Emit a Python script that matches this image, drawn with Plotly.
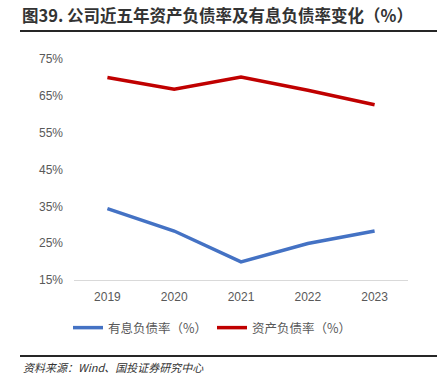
import plotly.graph_objects as go

years = ["2019", "2020", "2021", "2022", "2023"]
interest_debt_ratio = [34.4, 28.3, 19.9, 24.9, 28.3]
asset_liability_ratio = [70.0, 66.8, 70.1, 66.5, 62.6]
y_ticks = [15, 25, 35, 45, 55, 65, 75]

W, H = 443, 388
# plot area in pixels
X0, X1, Y0, Y1 = 74, 408, 59, 280

def px(x):
    return x / W

def py(y):
    return 1 - y / H

fig = go.Figure()
fig.add_trace(go.Scatter(x=years, y=interest_debt_ratio, mode="lines",
                         name="有息负债率（%）",
                         line=dict(color="#4472C4", width=3.5)))
fig.add_trace(go.Scatter(x=years, y=asset_liability_ratio, mode="lines",
                         name="资产负债率（%）",
                         line=dict(color="#C00000", width=3.5)))

cjk = "Noto Sans CJK SC"
fig.update_layout(
    width=W, height=H,
    margin=dict(l=0, r=0, t=0, b=0, autoexpand=False),
    paper_bgcolor="white", plot_bgcolor="white",
    font=dict(family=cjk, color="#595959", size=12),
    showlegend=True,
    legend=dict(orientation="h", x=px(68), y=py(313), xanchor="left", yanchor="top",
                font=dict(size=12.5, color="#595959"), itemwidth=30,
                tracegroupgap=0, traceorder="normal"),
    xaxis=dict(domain=[px(X0), px(X1)], showgrid=False, showline=True,
               linecolor="#D9D9D9", linewidth=1,
               range=[-0.5, 4.5], ticks="", ticklabelstandoff=6,
               tickfont=dict(size=12, color="#595959", family="Liberation Sans")),
    yaxis=dict(domain=[py(Y1), py(Y0)], range=[15, 75], tickvals=y_ticks,
               ticktext=[f"{v}%" for v in y_ticks],
               showgrid=False, zeroline=False, showline=False, ticklabelstandoff=10,
               tickfont=dict(size=12, color="#595959", family="Liberation Sans")),
)

fig.add_annotation(xref="paper", yref="paper", x=px(20), y=py(15),
                   xanchor="left", yanchor="middle", showarrow=False,
                   text="<b>图39. 公司近五年资产负债率及有息负债率变化（%）</b>",
                   font=dict(size=16.5, color="#333333", family=cjk))
# horizontal rules drawn as thin filled annotation boxes
for yline in (31, 356):
    fig.add_annotation(xref="paper", yref="paper", x=px(20), y=py(yline),
                       xanchor="left", yanchor="middle", showarrow=False,
                       text=" ", font=dict(size=1, color="#262626"),
                       width=416, height=1, bgcolor="#262626",
                       bordercolor="#262626", borderwidth=0, borderpad=0.5)
fig.add_annotation(xref="paper", yref="paper", x=px(21), y=py(367),
                   xanchor="left", yanchor="middle", showarrow=False,
                   text="<i>资料来源：Wind、国投证券研究中心</i>",
                   font=dict(size=11, color="#333333", family=cjk))

fig.write_html("out.html", config={"displayModeBar": False},
               post_script="document.body.style.margin='0';document.body.style.padding='0';")
